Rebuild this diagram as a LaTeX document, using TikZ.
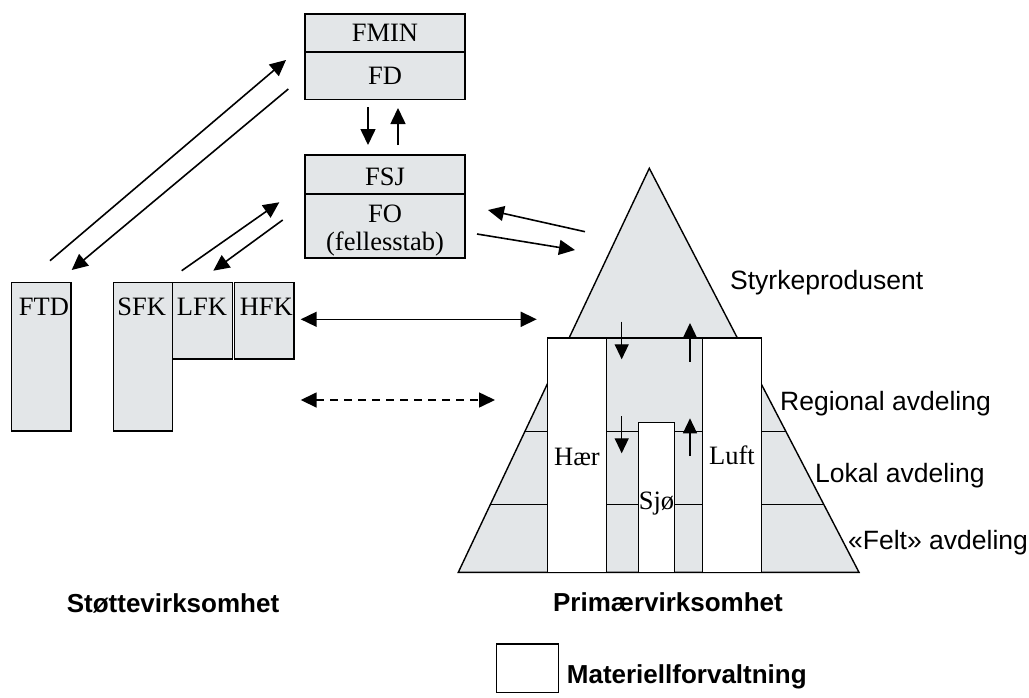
\documentclass[tikz,border=0pt]{standalone}
\usepackage{fontspec}
\setmainfont{Liberation Serif}
\newfontfamily\labelsans{Liberation Sans}
\usetikzlibrary{arrows.meta}
\definecolor{boxgray}{RGB}{227,230,232}

\begin{document}
\begin{tikzpicture}[x=1pt,y=-1pt,
  box/.style={draw=black, line width=1.2pt, fill=boxgray, inner sep=0pt, outer sep=0pt, anchor=north west},
  whitebox/.style={draw=black, line width=1.2pt, fill=white, inner sep=0pt, outer sep=0pt, anchor=north west},
  serif/.style={font=\fontsize{26.5}{28}\selectfont, inner sep=0pt},
  sans/.style={font=\labelsans\fontsize{26.5}{28}\selectfont, inner sep=0pt, anchor=base west},
  heading/.style={font=\labelsans\bfseries\fontsize{26}{28}\selectfont, inner sep=0pt},
  conn/.style={line width=1.6pt, -{Triangle[length=16pt,width=15pt]}},
  biconn/.style={line width=1.6pt, {Triangle[length=16pt,width=15pt]}-{Triangle[length=16pt,width=15pt]}},
  inner/.style={line width=1.3pt, -{Triangle[length=15pt,width=14pt]}},
]
\useasboundingbox (0,0) rectangle (1029,697);

% ---- ministry / defence staff boxes
\node[box, serif, minimum width=160pt, minimum height=38pt] (fmin) at (305,14) {FMIN};
\node[box, serif, minimum width=160pt, minimum height=47.5pt] (fd) at (305,52) {FD};
\node[box, minimum width=160pt, minimum height=39pt] (fsj) at (305,155) {};
\node[serif, anchor=base] (fsjtext) at (385,185) {FSJ};
\node[box, minimum width=160pt, minimum height=64pt] (fo) at (305,194) {};
\node[serif, anchor=base] (fotext) at (385,222) {FO};
\node[serif, anchor=base] (fotext2) at (385,250) {(fellesstab)};

% ---- support units
\node[box, minimum width=59.3pt, minimum height=148.7pt] (ftd) at (11.7,282.3) {};
\node[box, minimum width=59pt, minimum height=148.7pt] (sfk) at (113.3,282.3) {};
\node[box, minimum width=60pt, minimum height=76.7pt] (lfk) at (172.3,282.3) {};
\node[box, minimum width=59.7pt, minimum height=76.7pt] (hfk) at (234.3,282.3) {};
\node[serif, anchor=base] (ftdtext) at (44,315) {FTD};
\node[serif, anchor=base] (sfktext) at (141.7,315) {SFK};
\node[serif, anchor=base] (lfktext) at (202,315) {LFK};
\node[serif, anchor=base] (hfktext) at (266.3,315) {HFK};

% ---- force production pyramid
\coordinate (apex) at (649.3,168.3);
\coordinate (baseL) at (458.3,572.3);
\coordinate (baseR) at (859,572.3);
\fill[boxgray] (apex) -- (baseL) -- (baseR) -- cycle;
\begin{scope}
  \clip (apex) -- (baseL) -- (baseR) -- cycle;
  \draw[line width=1.2pt] (400,338) -- (900,338);
  \draw[line width=1.2pt] (400,431.7) -- (900,431.7);
  \draw[line width=1.2pt] (400,504.3) -- (900,504.3);
\end{scope}
\draw[line width=1.4pt, line join=miter] (apex) -- (baseL) -- (baseR) -- cycle;

\node[whitebox, minimum width=59.4pt, minimum height=234.3pt] (haer) at (547.3,338) {};
\node[whitebox, minimum width=59.4pt, minimum height=234.3pt] (luft) at (702.3,338) {};
\node[whitebox, minimum width=35.6pt, minimum height=150pt] (sjo) at (638.7,422.3) {};
\node[serif, anchor=base] (haertext) at (577,465) {Hær};
\node[serif, anchor=base] (lufttext) at (732,464) {Luft};
\node[serif, anchor=base] (sjotext) at (656.5,509) {Sjø};

% ---- level labels
\node[sans] (lvl1) at (730,289.3) {Styrkeprodusent};
\node[sans] (lvl2) at (780,410.7) {Regional avdeling};
\node[sans] (lvl3) at (815,482.3) {Lokal avdeling};
\node[sans] (lvl4) at (848,549) {«Felt» avdeling};

% ---- headings and legend
\node[heading, anchor=base] (support) at (173,612) {Støttevirksomhet};
\node[heading, anchor=base] (primary) at (668,611.7) {Primærvirksomhet};
\node[whitebox, line width=1.1pt, minimum width=61.6pt, minimum height=48.7pt] (legendbox) at (496.7,644) {};
\node[heading, anchor=base west] (legendtext) at (566.7,683) {Materiellforvaltning};

% ---- arrow end points
\coordinate (fdDownA) at (368,107);   \coordinate (fdDownB) at (368,145);
\coordinate (fdUpA) at (398,145);     \coordinate (fdUpB) at (398,108);
\coordinate (foInA) at (585,231.7);   \coordinate (foInB) at (488,210);
\coordinate (foOutA) at (477,234);    \coordinate (foOutB) at (575,250);
\coordinate (ftdUpA) at (50,260.7);   \coordinate (ftdUpB) at (286,60);
\coordinate (ftdDnA) at (288.3,89);   \coordinate (ftdDnB) at (71.7,270);
\coordinate (lfkUpA) at (181.7,270.7);\coordinate (lfkUpB) at (279.3,202.3);
\coordinate (lfkDnA) at (282.7,220);  \coordinate (lfkDnB) at (213.3,270.7);
\coordinate (midL) at (300.7,319.3);  \coordinate (midR) at (536.7,319.3);
\coordinate (dashL) at (300.7,400);   \coordinate (dashR) at (495,400);
\coordinate (p1dA) at (621.7,321.7);  \coordinate (p1dB) at (621.7,359.3);
\coordinate (p1uA) at (690,361.7);    \coordinate (p1uB) at (690,323);
\coordinate (p2dA) at (621.7,416);    \coordinate (p2dB) at (621.7,453.3);
\coordinate (p2uA) at (690,456);      \coordinate (p2uB) at (690,418.3);

% ---- connectors
\draw[conn] (fdDownA) -- (fdDownB);
\draw[conn] (fdUpA) -- (fdUpB);
\draw[conn] (foInA) -- (foInB);
\draw[conn] (foOutA) -- (foOutB);
\draw[conn] (ftdUpA) -- (ftdUpB);
\draw[conn] (ftdDnA) -- (ftdDnB);
\draw[conn] (lfkUpA) -- (lfkUpB);
\draw[conn] (lfkDnA) -- (lfkDnB);
\draw[biconn] (midL) -- (midR);
\draw[biconn, dash pattern=on 8pt off 6pt] (dashL) -- (dashR);
\draw[inner] (p1dA) -- (p1dB);
\draw[inner] (p1uA) -- (p1uB);
\draw[inner] (p2dA) -- (p2dB);
\draw[inner] (p2uA) -- (p2uB);
\end{tikzpicture}
\end{document}
